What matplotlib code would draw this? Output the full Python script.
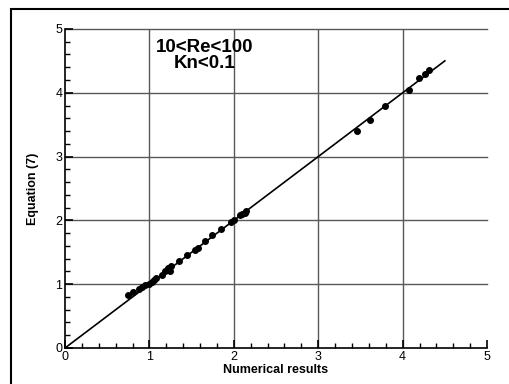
import matplotlib
matplotlib.use('Agg')
from matplotlib import pyplot as plt
from matplotlib.patches import Rectangle
from matplotlib.ticker import MultipleLocator

plt.rcParams['font.family'] = ['Liberation Sans', 'DejaVu Sans']

# numerical results vs equation (7)
numerical = [0.75, 0.81, 0.88, 0.91, 0.95, 1.00, 1.03, 1.06, 1.08, 1.15,
             1.18, 1.22, 1.24, 1.26, 1.35, 1.45, 1.54, 1.58, 1.66, 1.74,
             1.85, 1.97, 2.00, 2.07, 2.10, 2.13, 2.15, 3.46, 3.61, 3.79,
             4.08, 4.19, 4.26, 4.31]
equation = [0.83, 0.87, 0.92, 0.96, 0.99, 1.01, 1.04, 1.07, 1.09, 1.14,
            1.20, 1.25, 1.21, 1.29, 1.37, 1.46, 1.54, 1.56, 1.67, 1.77,
            1.86, 1.98, 2.00, 2.08, 2.10, 2.12, 2.15, 3.40, 3.57, 3.79,
            4.04, 4.23, 4.29, 4.35]
ref_line = [0, 4.5]
ticks = [0, 1, 2, 3, 4, 5]

fig = plt.figure(figsize=(5.1, 3.84), dpi=100)
ax = fig.add_axes([0.1275, 0.09375, 0.8275, 0.8308])

# outer frame around the figure
fig.patches.append(Rectangle((11/510, -0.1), 1.2, 1 - 9/384 + 0.1,
                             transform=fig.transFigure, fill=False,
                             edgecolor='black', linewidth=1.5))

for v in ticks[1:5]:
    ax.axvline(v, color='#585858', lw=1, zorder=0)
for v in ticks[1:]:
    ax.axhline(v, color='#585858', lw=1, zorder=0, clip_on=False)

ax.plot(ref_line, ref_line, color='black', lw=1.2)
ax.plot(numerical, equation, 'o', color='black', markersize=4)

ax.set_xlim(0, 5)
ax.set_ylim(0, 5)
ax.set_xticks(ticks)
ax.set_yticks(ticks)
ax.xaxis.set_minor_locator(MultipleLocator(0.2))
ax.yaxis.set_minor_locator(MultipleLocator(0.2))
ax.tick_params(which='major', direction='in', length=6, width=1.2, labelsize=9, pad=2)
ax.tick_params(which='minor', direction='in', length=3.5, width=1)
ax.spines['right'].set_visible(False)
ax.spines['top'].set_visible(False)
ax.spines['left'].set_linewidth(1.2)
ax.spines['bottom'].set_linewidth(1.2)

ax.set_xlabel('Numerical results', fontsize=9, fontweight='bold', labelpad=1)
ax.set_ylabel('Equation (7)', fontsize=9, fontweight='bold', labelpad=12)

ax.text(1.65, 4.58, '10<Re<100\nKn<0.1', fontsize=13.5, fontweight='bold',
        ha='center', va='center', linespacing=0.95)

fig.savefig('out.png', dpi=100)
